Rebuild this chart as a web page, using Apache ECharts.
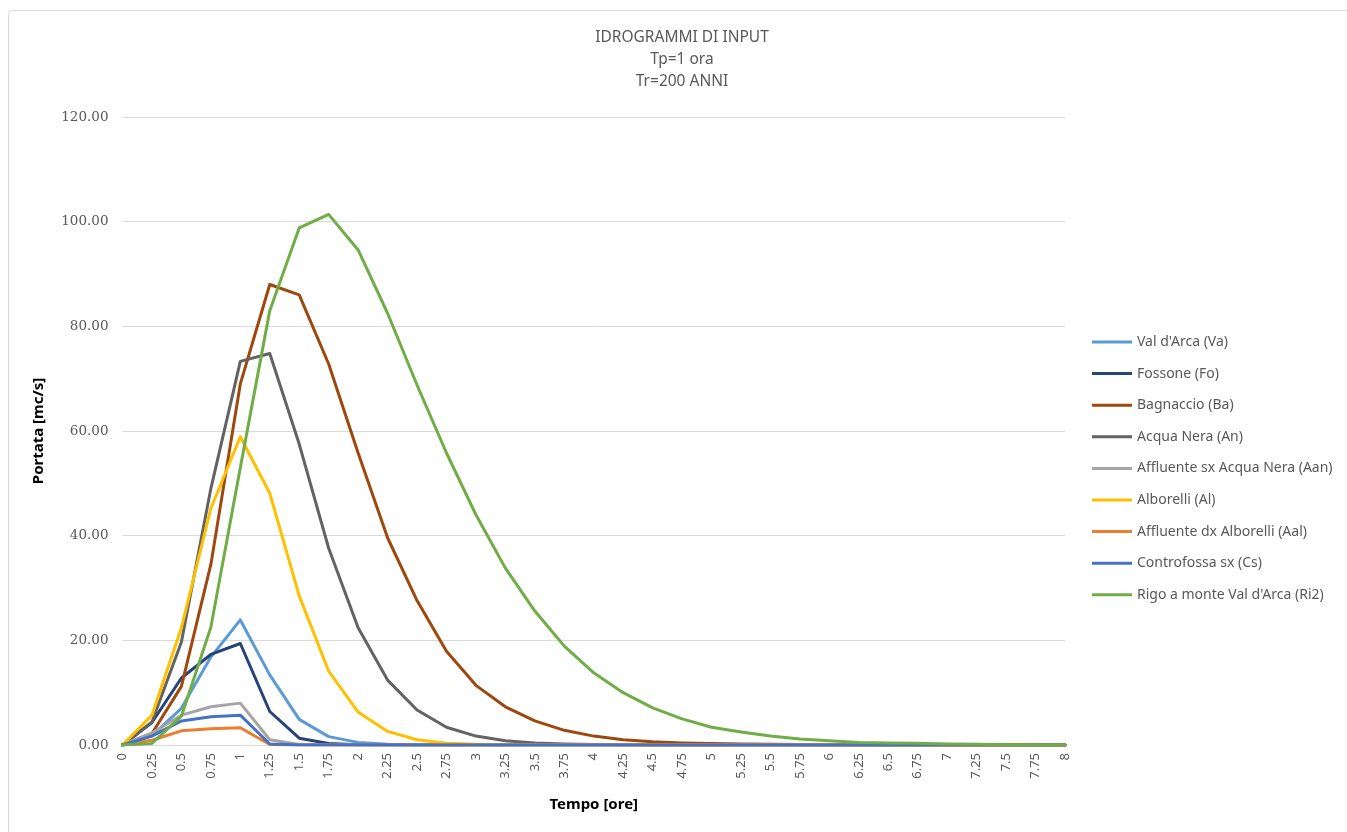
<!DOCTYPE html>
<html>
<head>
<meta charset="utf-8">
<title>Idrogrammi di input</title>
<script src="https://cdn.jsdelivr.net/npm/echarts@6/dist/echarts.min.js"></script>
<style>
  html, body { margin: 0; padding: 0; background: #fff; }
  #chart { width: 1347px; height: 832px; }
</style>
</head>
<body>
<div id="chart"></div>
<script>
// Tempo [ore]: passo 0.25 h da 0 a 8
const tempi = ['0','0.25','0.5','0.75','1','1.25','1.5','1.75','2','2.25','2.5','2.75','3','3.25','3.5','3.75',
  '4','4.25','4.5','4.75','5','5.25','5.5','5.75','6','6.25','6.5','6.75','7','7.25','7.5','7.75','8'];

// Portate [mc/s] per bacino
const valDArca      = [0, 1.8, 7.0, 16.8, 23.9, 13.4, 4.9, 1.6, 0.5, 0.15, 0.05, 0, 0, 0, 0, 0, 0, 0, 0, 0, 0, 0, 0, 0, 0, 0, 0, 0, 0, 0, 0, 0, 0];
const fossone       = [0, 4.3, 12.8, 17.3, 19.4, 6.4, 1.3, 0.3, 0.05, 0, 0, 0, 0, 0, 0, 0, 0, 0, 0, 0, 0, 0, 0, 0, 0, 0, 0, 0, 0, 0, 0, 0, 0];
const bagnaccio     = [0, 2.2, 11.2, 34.5, 69.0, 88.0, 86.0, 72.8, 55.8, 39.6, 27.6, 17.9, 11.4, 7.3, 4.6, 2.8, 1.7, 1.0, 0.6, 0.4, 0.28, 0.2, 0.12, 0.08, 0.05, 0.03, 0.02, 0.01, 0, 0, 0, 0, 0];
const acquaNera     = [0, 4.4, 19.7, 49.0, 73.3, 74.8, 57.5, 37.6, 22.4, 12.4, 6.7, 3.4, 1.7, 0.8, 0.4, 0.2, 0.1, 0.05, 0, 0, 0, 0, 0, 0, 0, 0, 0, 0, 0, 0, 0, 0, 0];
const affluenteSxAn = [0, 2.3, 5.7, 7.3, 8.0, 1.0, 0.1, 0, 0, 0, 0, 0, 0, 0, 0, 0, 0, 0, 0, 0, 0, 0, 0, 0, 0, 0, 0, 0, 0, 0, 0, 0, 0];
const alborelli     = [0, 5.7, 22.4, 45.2, 58.9, 48.1, 28.5, 14.1, 6.3, 2.6, 1.0, 0.35, 0.15, 0.05, 0, 0, 0, 0, 0, 0, 0, 0, 0, 0, 0, 0, 0, 0, 0, 0, 0, 0, 0];
const affluenteDxAl = [0, 0.9, 2.7, 3.1, 3.3, 0.1, 0, 0, 0, 0, 0, 0, 0, 0, 0, 0, 0, 0, 0, 0, 0, 0, 0, 0, 0, 0, 0, 0, 0, 0, 0, 0, 0];
const controfossa   = [0, 1.7, 4.6, 5.4, 5.7, 0.2, 0, 0, 0, 0, 0, 0, 0, 0, 0, 0, 0, 0, 0, 0, 0, 0, 0, 0, 0, 0, 0, 0, 0, 0, 0, 0, 0];
const rigoMonte     = [0, 0.3, 5.5, 22.5, 53.0, 83.0, 98.8, 101.4, 94.6, 82.5, 68.8, 55.8, 44.0, 33.8, 25.6, 18.9, 13.8, 10.0, 7.1, 5.0, 3.4, 2.5, 1.7, 1.15, 0.8, 0.5, 0.4, 0.35, 0.2, 0.15, 0.05, 0.02, 0];

const serie = [
  { name: "Val d'Arca (Va)",              data: valDArca,      color: '#5B9BD5' },
  { name: 'Fossone (Fo)',                 data: fossone,       color: '#264478' },
  { name: 'Bagnaccio (Ba)',               data: bagnaccio,     color: '#9E480E' },
  { name: 'Acqua Nera (An)',              data: acquaNera,     color: '#636363' },
  { name: 'Affluente sx Acqua Nera (Aan)', data: affluenteSxAn, color: '#A5A5A5' },
  { name: 'Alborelli (Al)',               data: alborelli,     color: '#FFC000' },
  { name: 'Affluente dx Alborelli (Aal)', data: affluenteDxAl, color: '#ED7D31' },
  { name: 'Controfossa sx (Cs)',          data: controfossa,   color: '#4472C4' },
  { name: "Rigo a monte Val d'Arca (Ri2)", data: rigoMonte,    color: '#70AD47' }
];

const titolo = ['IDROGRAMMI DI INPUT', 'Tp=1 ora', 'Tr=200 ANNI'];

const chart = echarts.init(document.getElementById('chart'), null, { renderer: 'canvas' });

chart.setOption({
  backgroundColor: '#ffffff',
  animation: false,
  textStyle: { fontFamily: 'Noto Sans' },
  graphic: [
    {
      type: 'rect', silent: true, z: -1,
      shape: { x: 8.5, y: 10.5, width: 1345, height: 830, r: 4 },
      style: { fill: 'none', stroke: '#D9D9D9', lineWidth: 1 }
    },
    {
      type: 'text', silent: true,
      x: 682, y: 27,
      style: {
        text: titolo.join('\n'),
        align: 'center',
        verticalAlign: 'top',
        fontFamily: 'Noto Sans', fontSize: 15.5, lineHeight: 22,
        fill: '#595959'
      }
    }
  ],
  grid: { left: 122.5, right: 282, top: 117, bottom: 87, containLabel: false },
  legend: {
    orient: 'vertical',
    left: 1087, top: 329,
    itemWidth: 40, itemHeight: 3,
    itemGap: 15.6,
    icon: 'rect',
    textStyle: { fontFamily: 'Noto Sans', fontSize: 14, color: '#595959', lineHeight: 16, padding: [0, 0, 0, 0] },
    data: serie.map(s => s.name)
  },
  xAxis: {
    type: 'category',
    data: tempi,
    boundaryGap: false,
    name: 'Tempo [ore]',
    nameLocation: 'middle',
    nameGap: 52,
    nameTextStyle: { fontFamily: 'Noto Sans', fontSize: 15, fontWeight: 'bold', color: '#000' },
    axisLine: { show: true, lineStyle: { color: '#D9D9D9', width: 1 } },
    axisTick: { show: false },
    axisLabel: {
      interval: 0, rotate: 90, margin: 8,
      fontFamily: 'Noto Sans', fontSize: 13, color: '#595959'
    },
    splitLine: { show: false }
  },
  yAxis: {
    type: 'value',
    min: 0, max: 120, interval: 20,
    name: 'Portata [mc/s]',
    nameLocation: 'middle',
    nameGap: 76,
    nameRotate: 90,
    nameTextStyle: { fontFamily: 'Noto Sans', fontSize: 15, fontWeight: 'bold', color: '#000' },
    axisLine: { show: false },
    axisTick: { show: false },
    axisLabel: {
      margin: 14,
      fontFamily: 'DejaVu Serif', fontSize: 13.5, color: '#595959',
      formatter: v => v.toFixed(2)
    },
    splitLine: { lineStyle: { color: '#D9D9D9', width: 1 } }
  },
  series: serie.map(s => ({
    name: s.name,
    type: 'line',
    data: s.data,
    symbol: 'none',
    smooth: false,
    color: s.color,
    lineStyle: { width: 3, color: s.color, join: 'round', cap: 'round' }
  }))
});
</script>
</body>
</html>
